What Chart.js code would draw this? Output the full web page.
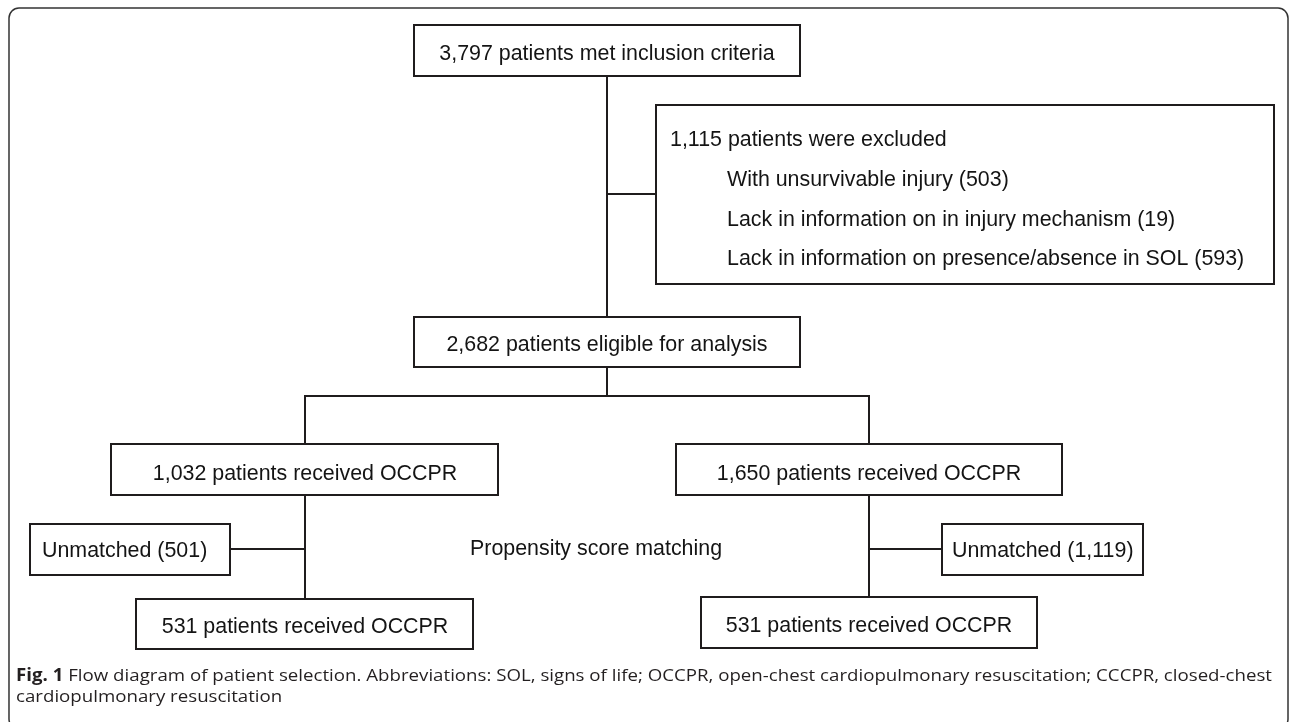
<!DOCTYPE html>
<html>
<head>
<meta charset="utf-8">
<script src="https://cdn.jsdelivr.net/npm/chart.js@4.4.1/dist/chart.umd.min.js"></script>
<style>
  html, body { margin: 0; padding: 0; background: #fff; }
  canvas { display: block; }
</style>
</head>
<body>
<canvas id="flow" width="1290" height="722"></canvas>
<script>
// flow counts
const stageCounts = [3797, 2682];
const excludedTotal = 1115;
const exclusionReasons = ['With unsurvivable injury', 'Lack in information on in injury mechanism', 'Lack in information on presence/absence in SOL'];
const exclusionCounts = [503, 19, 593];
const groupCounts = [1032, 1650];
const unmatchedCounts = [501, 1119];
const matchedCounts = [531, 531];
const groupText = 'patients received OCCPR';
const matchingText = 'Propensity score matching';
const captionBold = 'Fig. 1';
const captionLines = [
  ' Flow diagram of patient selection. Abbreviations: SOL, signs of life; OCCPR, open-chest cardiopulmonary resuscitation; CCCPR, closed-chest',
  'cardiopulmonary resuscitation'
];

const fmt = n => n.toLocaleString('en-US');

// page layout (diagram units = pixels of the 1290x722 figure)
const box = {
  top:      { x0: 414, x1: 800, y0: 25,  y1: 76 },
  excl:     { x0: 656, x1: 1274, y0: 105, y1: 284 },
  eligible: { x0: 414, x1: 800, y0: 317, y1: 367 },
  groupL:   { x0: 111, x1: 498, y0: 444, y1: 495 },
  groupR:   { x0: 676, x1: 1062, y0: 444, y1: 495 },
  unmL:     { x0: 30,  x1: 230, y0: 524, y1: 575 },
  unmR:     { x0: 942, x1: 1143, y0: 524, y1: 575 },
  matchL:   { x0: 136, x1: 473, y0: 599, y1: 649 },
  matchR:   { x0: 701, x1: 1037, y0: 597, y1: 648 }
};
const spineX = 607, branchY = 396, exclY = 194, sideY = 549;
const midX = b => Math.round((b.x0 + b.x1) / 2);
const leftX = midX(box.groupL), rightX = midX(box.groupR);

const connectors = [
  [[spineX, box.top.y1], [spineX, box.eligible.y0]],
  [[spineX, exclY], [box.excl.x0, exclY]],
  [[spineX, box.eligible.y1], [spineX, branchY]],
  [[leftX, box.groupL.y0], [leftX, branchY], [rightX, branchY], [rightX, box.groupR.y0]],
  [[leftX, box.groupL.y1], [leftX, box.matchL.y0]],
  [[rightX, box.groupR.y1], [rightX, box.matchR.y0]],
  [[box.unmL.x1, sideY], [leftX, sideY]],
  [[rightX, sideY], [box.unmR.x0, sideY]]
];

const ink = '#1f1c1d';
const font = '21.4px "Liberation Sans", Arial, sans-serif';

const flowPlugin = {
  id: 'flowDraw',
  afterDatasetsDraw(chart) {
    const { ctx, scales: { x, y } } = chart;
    const px = v => x.getPixelForValue(v);
    const py = v => y.getPixelForValue(v);
    ctx.save();

    // outer rounded frame, bottom edge falls just past the crop
    ctx.strokeStyle = '#333';
    ctx.lineWidth = 1.5;
    ctx.beginPath();
    ctx.roundRect(px(9), py(8), px(1288) - px(9), py(729) - py(8), 10);
    ctx.stroke();

    ctx.strokeStyle = ink;
    ctx.lineWidth = 2;
    Object.values(box).forEach(b => {
      ctx.strokeRect(px(b.x0), py(b.y0), px(b.x1) - px(b.x0), py(b.y1) - py(b.y0));
    });

    ctx.fillStyle = '#141414';
    ctx.font = font;
    ctx.textBaseline = 'alphabetic';
    const center = (t, b, base) => {
      ctx.textAlign = 'center';
      ctx.fillText(t, px(midX(b)), py(base));
    };
    center(fmt(stageCounts[0]) + ' patients met inclusion criteria', box.top, 60);
    center(fmt(stageCounts[1]) + ' patients eligible for analysis', box.eligible, 351);
    center(fmt(groupCounts[0]) + ' ' + groupText, box.groupL, 480);
    center(fmt(groupCounts[1]) + ' ' + groupText, box.groupR, 480);
    center(fmt(matchedCounts[0]) + ' ' + groupText, box.matchL, 633);
    center(fmt(matchedCounts[1]) + ' ' + groupText, box.matchR, 632);

    ctx.textAlign = 'left';
    ctx.fillText(fmt(excludedTotal) + ' patients were excluded', px(670), py(146));
    exclusionReasons.forEach((r, i) => {
      ctx.fillText(r + ' (' + fmt(exclusionCounts[i]) + ')', px(727), py(186 + i * 39.7));
    });
    ctx.fillText('Unmatched (' + fmt(unmatchedCounts[0]) + ')', px(42), py(557));
    ctx.fillText('Unmatched (' + fmt(unmatchedCounts[1]) + ')', px(952), py(557));
    ctx.fillText(matchingText, px(470), py(555));

    // caption, condensed to the figure width
    const capFont = '17px "Open Sans", "Liberation Sans", sans-serif';
    ctx.fillStyle = '#231f20';
    ctx.font = 'bold ' + capFont;
    const wb = ctx.measureText(captionBold).width;
    ctx.font = capFont;
    const w1 = ctx.measureText(captionLines[0]).width;
    const sx = (1272 - 16) / (wb + w1);
    ctx.save();
    ctx.translate(px(16), py(681));
    ctx.scale(sx, 1);
    ctx.font = 'bold ' + capFont;
    ctx.fillText(captionBold, 0, 0);
    ctx.font = capFont;
    ctx.fillText(captionLines[0], wb, 0);
    ctx.restore();
    ctx.save();
    ctx.translate(px(16), py(702));
    ctx.scale(sx, 1);
    ctx.fillText(captionLines[1], 0, 0);
    ctx.restore();

    ctx.restore();
  }
};

new Chart(document.getElementById('flow'), {
  type: 'scatter',
  data: {
    datasets: connectors.map(pts => ({
      data: pts.map(p => ({ x: p[0], y: p[1] })),
      showLine: true,
      borderColor: ink,
      borderWidth: 2,
      pointRadius: 0,
      tension: 0,
      fill: false
    }))
  },
  options: {
    responsive: false,
    devicePixelRatio: 1,
    animation: false,
    layout: { padding: 0 },
    plugins: { legend: { display: false }, tooltip: { enabled: false } },
    scales: {
      x: { type: 'linear', min: 0, max: 1290, display: false },
      y: { type: 'linear', min: 0, max: 722, reverse: true, display: false }
    }
  },
  plugins: [flowPlugin]
});
</script>
</body>
</html>
